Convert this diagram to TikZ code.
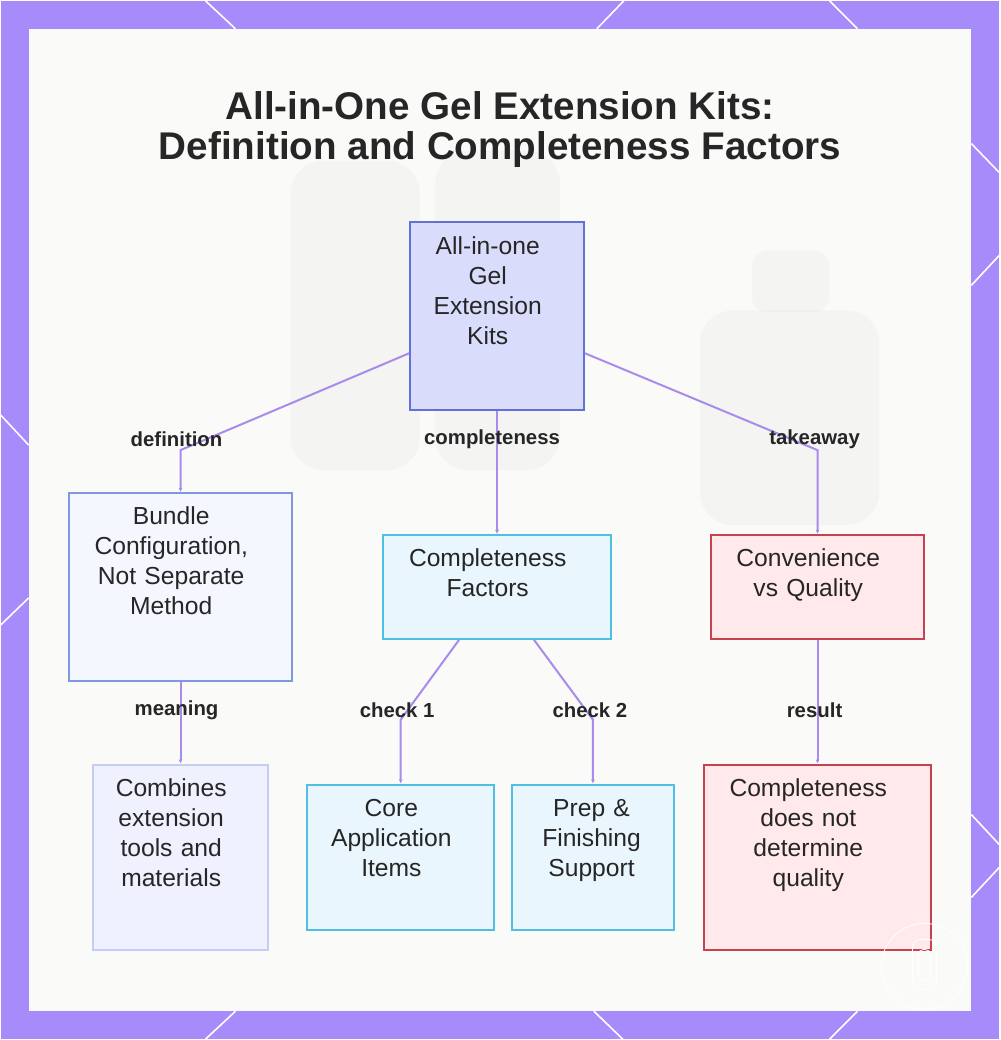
\documentclass[tikz,border=0pt]{standalone}
\usepackage{fontspec}
\setmainfont{Liberation Sans}
\usetikzlibrary{arrows.meta,positioning,calc}
\definecolor{frame}{HTML}{A78BFA}
\definecolor{panel}{HTML}{FAFAF9}
\definecolor{ink}{HTML}{262626}
\definecolor{edge}{HTML}{A88BEB}
\definecolor{rootfill}{HTML}{DADCFB}
\definecolor{rootline}{HTML}{6272D4}
\definecolor{defill}{HTML}{F5F7FF}
\definecolor{deline}{HTML}{7F97E6}
\definecolor{mnfill}{HTML}{EFF1FE}
\definecolor{mnline}{HTML}{C3CDF6}
\definecolor{cyfill}{HTML}{EAF6FE}
\definecolor{cyline}{HTML}{4FC0E3}
\definecolor{rdfill}{HTML}{FFE9EB}
\definecolor{rdline}{HTML}{C8414F}
\tikzset{
 card/.style={draw,line width=1.5pt,inner sep=0pt,align=center,anchor=north west,
  text height=24pt,text=ink,font=\fontsize{18.5}{22.5}\selectfont,
  execute at begin node={\leftskip=0pt plus 1fil\rightskip=14pt plus 1fil\parfillskip=0pt}},
 link/.style={-{Latex[length=3pt,width=3pt]},draw=edge,line width=1.5pt},
 tag/.style={text=ink,font=\fontsize{15.3}{18}\selectfont\bfseries},
 deco/.style={draw=white,line width=1.2pt}}

\begin{document}
\begin{tikzpicture}[x=0.75pt,y=-0.75pt]
 % frame and panel
 \fill[frame] (0,0) rectangle (1000,1040);
 \fill[panel] (28,28) rectangle (972,1012);
 \draw[deco] (205,0) -- (235,28) (624,0) -- (597,28) (830,0) -- (858,28);
 \draw[deco] (235,1012) -- (205,1040) (594,1012) -- (623,1040) (858,1012) -- (830,1040);
 \draw[deco] (972,143) -- (1000,172) (972,285) -- (1000,255) (972,815) -- (1000,845) (1000,868) -- (972,898);
 \draw[deco] (0,415) -- (28,445) (28,598) -- (0,625);
 % faint background
 \fill[black,opacity=0.022,rounded corners=25pt] (290,160) rectangle (420,470);
 \fill[black,opacity=0.022,rounded corners=25pt] (435,150) rectangle (560,470);
 \fill[black,opacity=0.022,rounded corners=25pt] (700,310) rectangle (880,525);
 \fill[black,opacity=0.022,rounded corners=12pt] (752,250) rectangle (830,312);

 \node[align=center,text=ink,font=\fontsize{29}{30}\selectfont\bfseries] (title) at (500,129)
  {All-in-One Gel Extension Kits:\\Definition and Completeness Factors};

 % boxes
 \node[card,fill=rootfill,draw=rootline,text width=130.5pt,text depth=117pt] (root) at (409,221)
  {All-in-one\\Gel\\Extension\\Kits};
 \node[card,fill=defill,draw=deline,text width=168pt,text depth=117pt] (bundle) at (67,492)
  {Bundle\\Configuration,\\Not Separate\\Method};
 \node[card,fill=cyfill,draw=cyline,text width=171pt,text depth=54pt] (factors) at (382,534)
  {Completeness\\Factors};
 \node[card,fill=rdfill,draw=rdline,text width=160.5pt,text depth=54pt] (tradeoff) at (710,534)
  {Convenience\\vs Quality};
 \node[card,fill=mnfill,draw=mnline,text width=132pt,text depth=115.5pt] (combines) at (91,764)
  {Combines\\extension\\tools and\\materials};
 \node[card,fill=cyfill,draw=cyline,text width=140.25pt,text depth=85.5pt] (core) at (306,784)
  {Core\\Application\\Items};
 \node[card,fill=cyfill,draw=cyline,text width=121.5pt,text depth=85.5pt,
  execute at begin node={\leftskip=0pt plus 1fil\rightskip=2pt plus 1fil\parfillskip=0pt}] (prep) at (511,784)
  {Prep \&\\Finishing\\Support};
 \node[card,fill=rdfill,draw=rdline,text width=171pt,text depth=115.5pt] (quality) at (703,764)
  {Completeness\\does not\\determine\\quality};

 % connectors
 \draw[link] ([yshift=-27.75pt]root.west) -- ([yshift=31.5pt]bundle.north) -- (bundle.north);
 \draw[link] (root.south) -- (factors.north);
 \draw[link] ([yshift=-27.75pt]root.east) -- ([yshift=63pt]tradeoff.north) -- (tradeoff.north);
 \draw[link] (bundle.south) -- (combines.north);
 \draw[link] ([xshift=-28.5pt]factors.south) -- ([yshift=48pt]core.north) -- (core.north);
 \draw[link] ([xshift=27.75pt]factors.south) -- ([yshift=48pt]prep.north) -- (prep.north);
 \draw[link] (tradeoff.south) -- (quality.north);

 \node[tag] (l-def) at (176,439) {definition};
 \node[tag] (l-comp) at (492,439) {completeness};
 \node[tag] (l-take) at (815,439) {takeaway};
 \node[tag] (l-mean) at (176,711) {meaning};
 \node[tag] (l-c1) at (397,711) {check 1};
 \node[tag] (l-c2) at (590,711) {check 2};
 \node[tag] (l-res) at (815,711) {result};

 % watermark
 \draw[white,line width=0.6pt] (925,967) circle[radius=32.25pt];
 \draw[white,line width=0.6pt,rounded corners=6pt] (913,940) rectangle (937,990);
 \draw[white,line width=0.6pt,rounded corners=4pt] (919,950) rectangle (931,982);
\end{tikzpicture}
\end{document}
